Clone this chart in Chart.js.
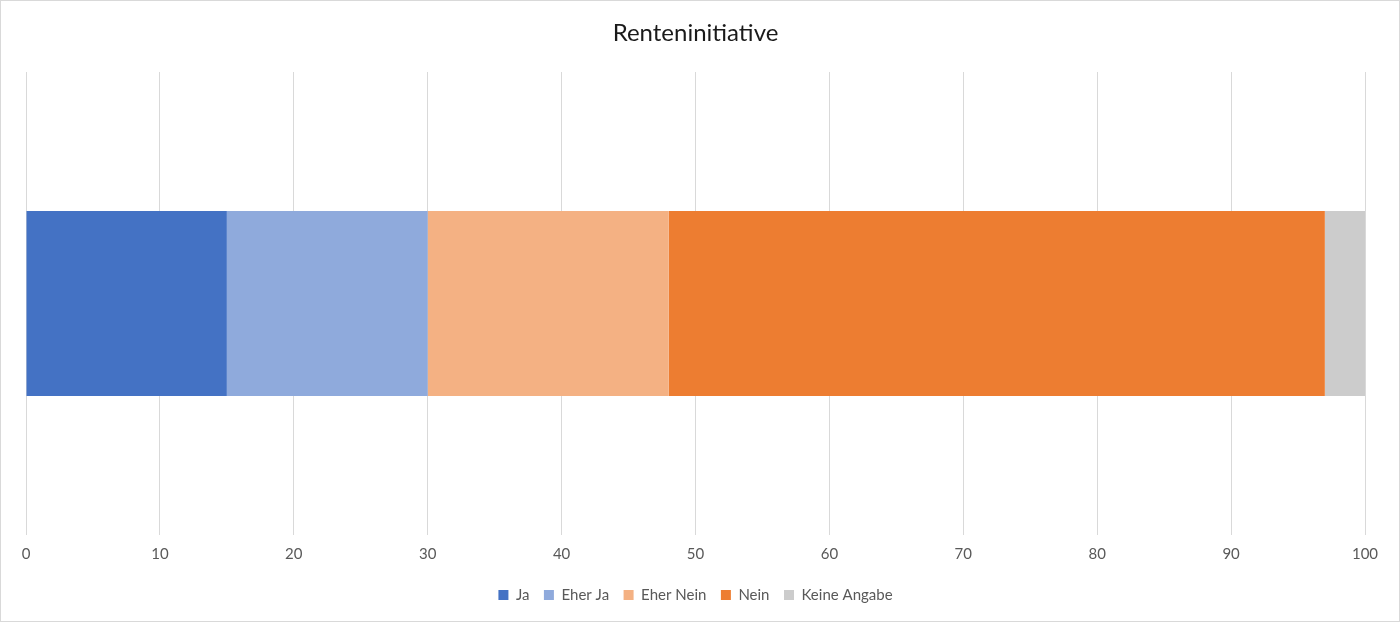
<!DOCTYPE html>
<html>
<head>
<meta charset="utf-8">
<script src="https://cdn.jsdelivr.net/npm/chart.js@4/dist/chart.umd.min.js"></script>
<style>
html,body{margin:0;padding:0;background:#fff;}
#wrap{width:1400px;height:622px;box-sizing:border-box;border:1px solid #d9d9d9;background:#fff;}
#c{display:block;}
</style>
</head>
<body>
<div id="wrap"><canvas id="c" width="1398" height="620"></canvas></div>
<script>
const categories = ['Renteninitiative'];
const seriesNames = ['Ja', 'Eher Ja', 'Eher Nein', 'Nein', 'Keine Angabe'];
const seriesValues = [[15], [15], [18], [49], [3]];
const seriesColors = ['#4472C4', '#8FAADC', '#F4B183', '#ED7D31', '#CCCCCC'];
const xMin = 0, xMax = 100, xStep = 10;
const FONT = 'Lato, "Open Sans", sans-serif';

new Chart(document.getElementById('c'), {
  type: 'bar',
  data: {
    labels: categories,
    datasets: seriesNames.map((n, i) => ({
      label: n,
      data: seriesValues[i],
      backgroundColor: seriesColors[i],
      borderWidth: 0,
      barPercentage: 0.4,
      categoryPercentage: 1.0
    }))
  },
  options: {
    indexAxis: 'y',
    responsive: false,
    animation: false,
    layout: { padding: { left: 25, right: 34, top: 0, bottom: 8.5 } },
    scales: {
      x: {
        stacked: true,
        min: xMin, max: xMax,
        ticks: { stepSize: xStep, color: '#595959', font: { family: FONT, size: 15 }, padding: 10 },
        grid: { color: '#d9d9d9', drawTicks: false },
        border: { display: false }
      },
      y: {
        stacked: true,
        display: false
      }
    },
    plugins: {
      title: {
        display: true,
        text: categories[0],
        color: '#1a1a1a',
        font: { family: FONT, size: 24, weight: 'normal' },
        padding: { top: 17.6, bottom: 24.6 }
      },
      legend: {
        position: 'bottom',
        labels: {
          boxWidth: 10, boxHeight: 10,
          color: '#595959',
          font: { family: FONT, size: 15 },
          padding: 14.5
        }
      },
      tooltip: { enabled: false }
    }
  }
});
</script>
</body>
</html>
